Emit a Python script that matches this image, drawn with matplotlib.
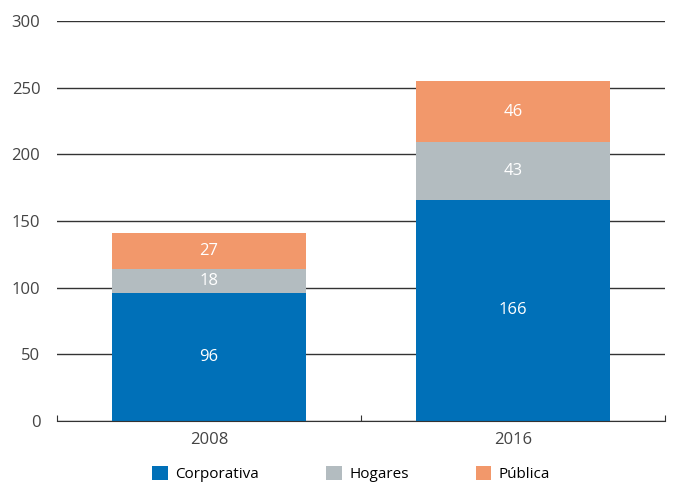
import matplotlib
matplotlib.use("Agg")
import matplotlib.pyplot as plt
import numpy as np

plt.rcParams['font.family'] = ['Open Sans', 'DejaVu Sans']

anios = ['2008', '2016']
corporativa = [96, 166]
hogares = [18, 43]
publica = [27, 46]

series = [('Corporativa', corporativa, '#0070B8'),
          ('Hogares', hogares, '#B3BCC0'),
          ('Pública', publica, '#F2986B')]

fig = plt.figure(figsize=(6.73, 4.83), dpi=100)
ax = fig.add_axes([0.0847, 0.1284, 0.9033, 0.8281])

x = np.arange(len(anios))
base = np.zeros(len(anios))
for nombre, vals, color in series:
    barras = ax.bar(x, vals, width=0.64, bottom=base, color=color, label=nombre, zorder=3)
    for b, v in zip(barras, vals):
        ax.text(b.get_x() + b.get_width() / 2, b.get_y() + b.get_height() / 2, str(v),
                ha='center', va='center', color='white', fontsize=12, zorder=4)
    base += np.array(vals)

ax.set_xlim(-0.5, 1.5)
ax.set_ylim(0, 300)
ax.set_yticks(range(0, 301, 50))
ax.grid(axis='y', color='#333333', linewidth=1, zorder=0)
ax.tick_params(axis='y', length=0, pad=12, labelsize=12, labelcolor='#444444')

for s in ['top', 'right', 'left']:
    ax.spines[s].set_visible(False)
ax.spines['bottom'].set_color('#333333')
ax.spines['bottom'].set_zorder(5)

ax.set_xticks([-0.5, 0.5, 1.5])
ax.set_xticklabels([])
ax.tick_params(axis='x', direction='in', length=4, color='#333333')
ax.set_xticks(x, minor=True)
ax.set_xticklabels(anios, minor=True)
ax.tick_params(axis='x', which='minor', length=0, pad=8, labelsize=12, labelcolor='#444444')

fig.legend(loc='center', ncol=3, frameon=False, fontsize=11,
           handlelength=1.0, handleheight=1.0, handletextpad=0.5, columnspacing=4.4,
           bbox_to_anchor=(0.522, 0.018))

fig.savefig('out.png', dpi=100)
